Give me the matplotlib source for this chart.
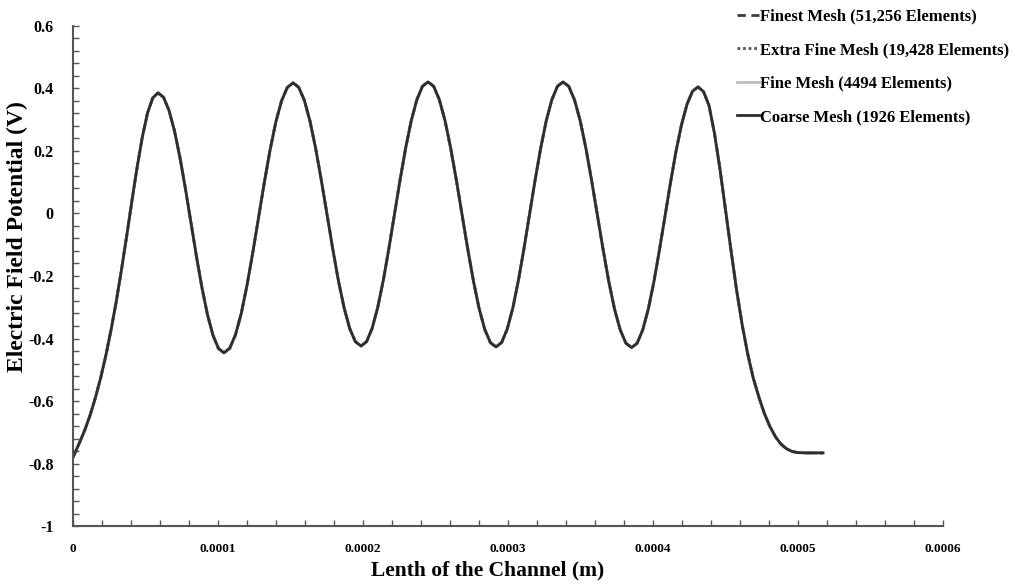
#!/usr/bin/env python3
"""
Mesh independence check: electric field potential along the channel
for four mesh resolutions (curves overlap).
"""

import numpy as np
import matplotlib.pyplot as plt
from matplotlib.ticker import MultipleLocator

# Position along the channel (micrometres) and potential (V)
length_um = [
    0, 4.6, 8.2, 11.8, 15.4, 19.0, 22.6, 26.2, 29.8, 33.4, 37.0, 40.6, 44.2, 47.8, 51.4, 55.0, 58.6,
    62.39, 66.18, 69.98, 73.77, 77.56, 81.35, 85.14, 88.93, 92.73, 96.52, 100.31, 104.1,
    108.07, 112.03, 116.0, 119.97, 123.93, 127.9, 131.87, 135.83, 139.8, 143.77, 147.73, 151.7,
    155.61, 159.52, 163.43, 167.33, 171.24, 175.15, 179.06, 182.97, 186.88, 190.78, 194.69, 198.6,
    202.45, 206.3, 210.15, 214.0, 217.85, 221.7, 225.55, 229.4, 233.25, 237.1, 240.95, 244.8,
    248.71, 252.62, 256.53, 260.43, 264.34, 268.25, 272.16, 276.07, 279.98, 283.88, 287.79, 291.7,
    295.55, 299.4, 303.25, 307.1, 310.95, 314.8, 318.65, 322.5, 326.35, 330.2, 334.05, 337.9,
    341.84, 345.78, 349.73, 353.67, 357.61, 361.55, 365.49, 369.43, 373.38, 377.32, 381.26, 385.2,
    389.02, 392.83, 396.65, 400.47, 404.28, 408.1, 411.92, 415.73, 419.55, 423.37, 427.18, 431.0,
    434.8, 438.6, 442.4, 446.2, 450.0, 453.8, 457.6, 461.4, 465.2, 469.0, 472.8, 476.6, 480.4,
    484.2, 488.0, 491.8, 495.6, 499.4, 505.0, 517.2,
]
potential = [
    -0.780, -0.732, -0.692, -0.645, -0.590, -0.527, -0.455, -0.373, -0.282, -0.180, -0.072,
    0.040, 0.148, 0.245, 0.322, 0.370, 0.386,
    0.372, 0.330, 0.264, 0.178, 0.078, -0.030, -0.138, -0.238, -0.324, -0.390, -0.432, -0.446,
    -0.431, -0.388, -0.320, -0.230, -0.126, -0.014, 0.098, 0.202, 0.292, 0.360, 0.403, 0.418,
    0.404, 0.362, 0.295, 0.208, 0.106, -0.003, -0.112, -0.214, -0.301, -0.368, -0.410, -0.424,
    -0.410, -0.367, -0.300, -0.213, -0.111, -0.002, 0.108, 0.210, 0.297, 0.364, 0.407, 0.421,
    0.407, 0.364, 0.297, 0.209, 0.107, -0.003, -0.113, -0.215, -0.303, -0.370, -0.413, -0.427,
    -0.413, -0.370, -0.303, -0.215, -0.113, -0.003, 0.107, 0.209, 0.297, 0.364, 0.407, 0.421,
    0.407, 0.364, 0.297, 0.209, 0.106, -0.004, -0.114, -0.217, -0.305, -0.372, -0.415, -0.429,
    -0.415, -0.373, -0.307, -0.221, -0.120, -0.012, 0.096, 0.197, 0.283, 0.349, 0.391, 0.405,
    0.390, 0.345, 0.255, 0.140, 0.010, -0.120, -0.245, -0.355, -0.448, -0.525, -0.585, -0.638,
    -0.680, -0.713, -0.737, -0.752, -0.761, -0.765, -0.766, -0.766,
]

mesh_labels = [
    'Finest Mesh (51,256 Elements)',
    'Extra Fine Mesh (19,428 Elements)',
    'Fine Mesh (4494 Elements)',
    'Coarse Mesh (1926 Elements)',
]

x_ticks = [0, 0.0001, 0.0002, 0.0003, 0.0004, 0.0005, 0.0006]
x_tick_labels = ['0', '0.0001', '0.0002', '0.0003', '0.0004', '0.0005', '0.0006']
y_ticks = [0.6, 0.4, 0.2, 0, -0.2, -0.4, -0.6, -0.8, -1]
y_tick_labels = ['0.6', '0.4', '0.2', '0', '-0.2', '-0.4', '-0.6', '-0.8', '-1']

plt.rcParams['font.family'] = ['Liberation Serif', 'DejaVu Serif']
plt.rcParams['font.weight'] = 'bold'

x = np.array(length_um) * 1e-6
y = np.array(potential)

styles = [
    dict(color='#3a3a3a', linestyle=(0, (3, 2)), linewidth=2.0),
    dict(color='#555555', linestyle=(0, (1, 1)), linewidth=2.0),
    dict(color='#bdbdbd', linestyle='-', linewidth=2.0),
    dict(color='#2e2e2e', linestyle='-', linewidth=2.0),
]

fig = plt.figure(figsize=(10.2, 5.84), dpi=100)
ax = fig.add_axes([0.0716, 0.0993, 0.853, 0.8562])

for label, st in zip(mesh_labels, styles):
    ax.plot(x, y, label=label, solid_joinstyle='round', **st)

ax.set_xlim(0, 0.0006)
ax.set_ylim(-1, 0.6)
ax.set_xticks(x_ticks)
ax.set_xticklabels(x_tick_labels, fontsize=9.5, fontweight='bold')
ax.set_yticks(y_ticks)
ax.set_yticklabels(y_tick_labels, fontsize=11.5, fontweight='bold')
ax.xaxis.set_minor_locator(MultipleLocator(0.00002))
ax.yaxis.set_minor_locator(MultipleLocator(0.04))

for side in ['top', 'right']:
    ax.spines[side].set_visible(False)
for side in ['left', 'bottom']:
    ax.spines[side].set_color('#555555')
    ax.spines[side].set_linewidth(1.5)

ax.tick_params(which='both', direction='in', length=4, width=1.0, color='#555555')
ax.tick_params(axis='y', which='major', pad=14)
ax.tick_params(axis='x', which='major', pad=12)

ax.set_ylabel('Electric Field Potential (V)', fontsize=17, fontweight='bold')
ax.yaxis.set_label_coords(-0.0515, 0.578)
ax.set_xlabel('Lenth of the Channel (m)', fontsize=15.5, fontweight='bold')
ax.xaxis.set_label_coords(0.4764, -0.068)

fig.legend(loc='upper left', bbox_to_anchor=(0.716, 0.997), frameon=False,
           fontsize=12, handlelength=1.3, handletextpad=0.1, labelspacing=1.05,
           borderaxespad=0)

plt.savefig('out.png', dpi=100)
plt.close()
